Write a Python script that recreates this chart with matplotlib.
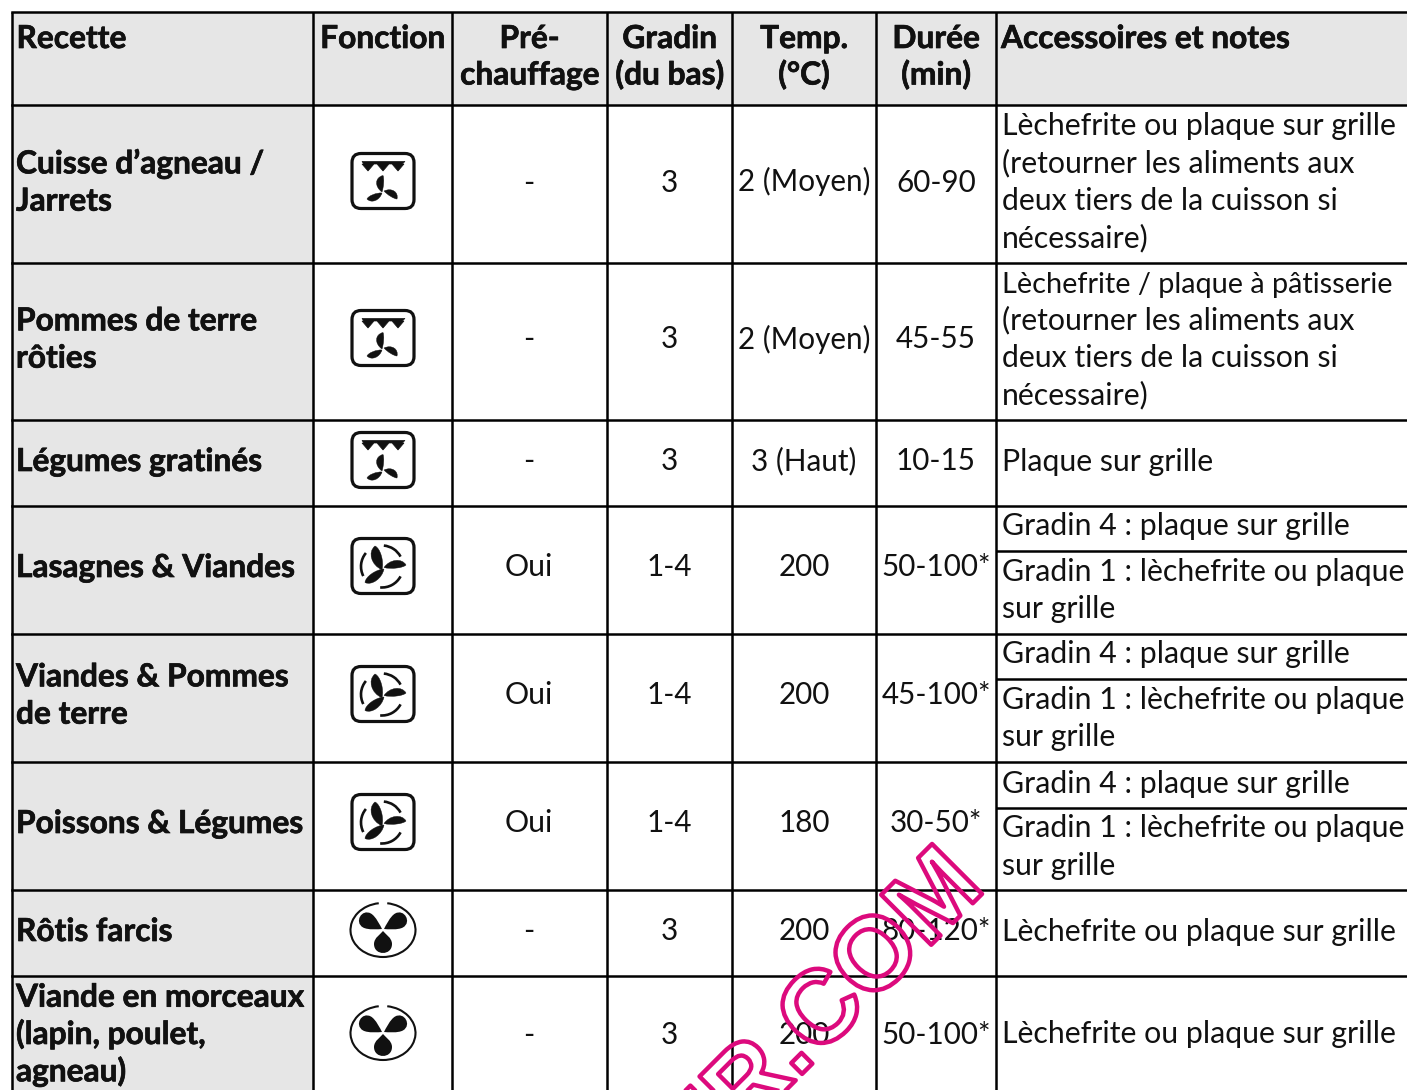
import numpy as np
import matplotlib
matplotlib.use("Agg")
import matplotlib.pyplot as plt
import matplotlib.patheffects as pe
from matplotlib.patches import PathPatch, Polygon, Arc, FancyBboxPatch
from matplotlib.path import Path

# --- table content ---
headers = [["Recette"], ["Fonction"], ["Pré-", "chauffage"], ["Gradin", "(du bas)"],
           ["Temp.", "(°C)"], ["Durée", "(min)"], ["Accessoires et notes"]]
recipes = [["Cuisse d’agneau /", "Jarrets"], ["Pommes de terre", "rôties"], ["Légumes gratinés"],
           ["Lasagnes & Viandes"], ["Viandes & Pommes", "de terre"], ["Poissons & Légumes"],
           ["Rôtis farcis"], ["Viande en morceaux", "(lapin, poulet,", "agneau)"]]
functions = ["grill", "grill", "grill", "turbo", "turbo", "turbo", "fan", "fan"]
preheat = ["-", "-", "-", "Oui", "Oui", "Oui", "-", "-"]
levels = ["3", "3", "3", "1-4", "1-4", "1-4", "3", "3"]
temps = ["2 (Moyen)", "2 (Moyen)", "3 (Haut)", "200", "200", "180", "200", "200"]
durations = ["60-90", "45-55", "10-15", "50-100*", "45-100*", "30-50*", "80-120*", "50-100*"]
notes = [["Lèchefrite ou plaque sur grille", "(retourner les aliments aux",
          "deux tiers de la cuisson si", "nécessaire)"],
         ["Lèchefrite / plaque à pâtisserie", "(retourner les aliments aux",
          "deux tiers de la cuisson si", "nécessaire)"],
         ["Plaque sur grille"],
         ["Gradin 4 : plaque sur grille", "Gradin 1 : lèchefrite ou plaque", "sur grille"],
         ["Gradin 4 : plaque sur grille", "Gradin 1 : lèchefrite ou plaque", "sur grille"],
         ["Gradin 4 : plaque sur grille", "Gradin 1 : lèchefrite ou plaque", "sur grille"],
         ["Lèchefrite ou plaque sur grille"],
         ["Lèchefrite ou plaque sur grille"]]
watermark = "ER.COM"

# --- layout, in pixels of the reference ---
COL_X = [11.5, 313, 452, 607, 732, 876, 996, 1420]
ROW_Y = [12, 105, 263, 420, 506, 634, 762, 890, 976, 1100]
SPLIT_Y = [551, 679, 808]
ROW_MID = [181, 338, 460, 566, 694, 822, 930, 1033]
NOTE_Y = [[124.5, 161.5, 198.5, 236], [281.5, 318.5, 356, 393], [459.5], [524.5, 570, 607],
          [652.5, 698, 735], [781.5, 826.5, 863.5], [929.5], [1032.5]]
LINE = 37.3
BASE = 11.0
GREY = "#e6e6e6"
INK = "#111111"
PINK = "#dc0a7d"
FONT = "Lato"
SIZE = 21.8
SIZE_TIGHT = 20.8
SIZE_NUM = 21.3
SIZE_B = 22.8
TIGHT_LINES = ["Lèchefrite / plaque à pâtisserie"]

plt.rcParams["font.family"] = [FONT, "DejaVu Sans"]


class OutlineOnly(pe.AbstractPathEffect):
    def __init__(self, width, color):
        super().__init__()
        self.width = width
        self.color = color

    def draw_path(self, renderer, gc, tpath, affine, rgbFace=None):
        gc0 = renderer.new_gc()
        gc0.copy_properties(gc)
        gc0.set_linewidth(self.width)
        gc0.set_foreground(self.color)
        gc0.set_joinstyle("round")
        renderer.draw_path(gc0, tpath, affine, None)
        gc0.restore()


def put(ax, x, y, s, bold=False, ha="center", size=None):
    if size is None:
        size = SIZE_B if bold else SIZE
    t = ax.text(x, y + BASE, s, ha=ha, va="baseline", color=INK, fontsize=size,
                fontweight="bold" if bold else "normal", zorder=3)
    if bold:
        # the original face is heavier than Lato Bold
        t.set_path_effects([pe.withStroke(linewidth=0.5, foreground=INK)])


def put_lines(ax, x, mid, lines, bold=False, ha="center"):
    top = mid - (len(lines) - 1) * LINE / 2
    for i, s in enumerate(lines):
        put(ax, x, top + i * LINE, s, bold, ha)


def blade(ax, root, tip, w1, w2):
    # lens shape from root to tip, bulging w1 on one side and w2 on the other
    r = np.array(root, float)
    t = np.array(tip, float)
    v = t - r
    n = np.array([-v[1], v[0]]) / np.hypot(*v)
    verts = [r, r + v * 0.3 + n * w1, r + v * 0.85 + n * w1, t,
             r + v * 0.85 - n * w2, r + v * 0.3 - n * w2, r, r]
    codes = [Path.MOVETO, Path.CURVE4, Path.CURVE4, Path.CURVE4,
             Path.CURVE4, Path.CURVE4, Path.CURVE4, Path.CLOSEPOLY]
    ax.add_patch(PathPatch(Path(verts, codes), fc=INK, ec=INK, lw=0.3, zorder=3))


def box(ax, x, y):
    ax.add_patch(FancyBboxPatch((x - 31, y - 27.5), 62, 55, boxstyle="round,pad=0,rounding_size=9",
                                fc="white", ec=INK, lw=2.3, zorder=2))


def icon_grill(ax, x, y):
    box(ax, x, y)
    top = y - 19.5
    pts = [(x - 21, top), (x + 22, top), (x + 19, top + 2.5)]
    for c in (x + 15, x, x - 15):
        pts += [(c + 6, top + 2.5), (c, top + 9.5), (c - 6, top + 2.5)]
    pts += [(x - 19, top + 2.5)]
    ax.add_patch(Polygon(pts, closed=True, fc=INK, ec=INK, lw=0.5, zorder=3))
    blade(ax, (x - 1, y + 11), (x, y - 5.5), 1.5, 8)
    blade(ax, (x - 1, y + 12), (x - 16, y + 18), 2.5, 6)
    blade(ax, (x + 1, y + 10), (x + 14, y + 18), 1.5, 7)


def icon_turbo(ax, x, y):
    box(ax, x, y)
    blade(ax, (x - 1, y + 3.8), (x - 8, y - 20), 4.5, 9)
    blade(ax, (x + 1, y + 1.5), (x + 23, y - 1), 2.7, 7.6)
    blade(ax, (x + 1, y + 3), (x - 18, y + 16.5), 4.4, 6.6)
    for t1, t2 in ((-85, -28), (153, 220), (28, 95)):
        ax.add_patch(Arc((x - 1, y + 0.5), 42, 42, theta1=t1, theta2=t2, ec=INK, lw=1.9, zorder=3))


def drop(ax, tip, centre, r):
    tip = np.array(tip, float)
    c = np.array(centre, float)
    u = (c - tip) / np.hypot(*(c - tip))
    n = np.array([-u[1], u[0]])
    k = 1.33 * r
    verts = [tip, tip + u * 3 + n * r * 0.25, c - u * r * 0.7 + n * r, c + n * r,
             c + n * r + u * k, c - n * r + u * k, c - n * r,
             c - u * r * 0.7 - n * r, tip + u * 3 - n * r * 0.25, tip, tip]
    codes = [Path.MOVETO, Path.CURVE4, Path.CURVE4, Path.CURVE4, Path.CURVE4, Path.CURVE4,
             Path.CURVE4, Path.CURVE4, Path.CURVE4, Path.CURVE4, Path.CLOSEPOLY]
    ax.add_patch(PathPatch(Path(verts, codes), fc=INK, ec="none", zorder=3))


def icon_fan(ax, x, y):
    ax.add_patch(Arc((x, y), 65, 54, theta1=-81, theta2=261, ec=INK, lw=1.5, zorder=3))
    drop(ax, (x - 1, y - 1), (x - 16, y - 9.5), 8)
    drop(ax, (x + 1, y - 1), (x + 16, y - 9.5), 8)
    drop(ax, (x, y + 1), (x, y + 14), 9)


ICONS = {"grill": icon_grill, "turbo": icon_turbo, "fan": icon_fan}

fig = plt.figure(figsize=(14.07, 10.9), dpi=100)
ax = fig.add_axes([0, 0, 1, 1])
ax.set_xlim(0, 1407)
ax.set_ylim(1090, 0)
ax.axis("off")

# fonds gris
ax.fill_between([COL_X[0], 1407], ROW_Y[0], ROW_Y[1], color=GREY, lw=0, zorder=0)
ax.fill_between([COL_X[0], COL_X[1]], ROW_Y[1], 1090, color=GREY, lw=0, zorder=0)

# grille
for x in COL_X[:-1]:
    ax.plot([x, x], [ROW_Y[0], 1090], color="black", lw=1.8, zorder=1, solid_capstyle="butt")
for y in ROW_Y[:-1]:
    ax.plot([COL_X[0], 1407], [y, y], color="black", lw=1.8, zorder=1, solid_capstyle="projecting")
for y in SPLIT_Y:
    ax.plot([COL_X[6], 1407], [y, y], color="black", lw=1.8, zorder=1, solid_capstyle="butt")

# en-tete
for j, lines in enumerate(headers):
    if j in (0, 6):
        put(ax, COL_X[j] + 5, 37, lines[0], bold=True, ha="left")
    else:
        for k, s in enumerate(lines):
            put(ax, (COL_X[j] + COL_X[j + 1]) / 2, 37 + k * 36.5, s, bold=True)

# lignes du tableau
for i, mid in enumerate(ROW_MID):
    put_lines(ax, COL_X[0] + 4.5, mid, recipes[i], bold=True, ha="left")
    ICONS[functions[i]](ax, 383, mid)
    put(ax, (COL_X[2] + COL_X[3]) / 2 - 1, mid - 0.5, preheat[i])
    put(ax, (COL_X[3] + COL_X[4]) / 2, mid - 0.5, levels[i], size=SIZE_NUM)
    put(ax, (COL_X[4] + COL_X[5]) / 2, mid - 0.5, temps[i], size=SIZE_NUM)
    put(ax, (COL_X[5] + COL_X[6]) / 2, mid - 0.5, durations[i], size=SIZE_NUM)
    for s, y in zip(notes[i], NOTE_Y[i]):
        put(ax, COL_X[6] + 6, y, s, ha="left", size=SIZE_TIGHT if s in TIGHT_LINES else SIZE)

# filigrane
ax.text(987, 889, watermark, rotation=45, rotation_mode="anchor", ha="right", va="baseline",
        fontsize=74, fontweight="bold", family="Liberation Sans", color=PINK, zorder=5,
        path_effects=[OutlineOnly(3.2, PINK)])

fig.savefig("out.png", dpi=100)
